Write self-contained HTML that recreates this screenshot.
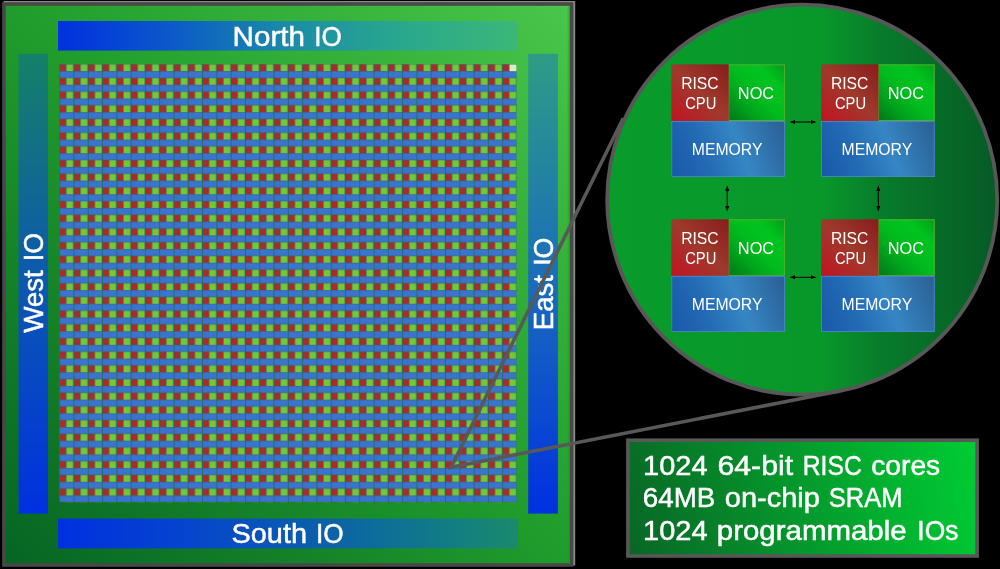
<!DOCTYPE html>
<html><head><meta charset="utf-8"><style>
html,body{margin:0;padding:0;background:#000;width:1000px;height:569px;overflow:hidden}
svg{display:block;will-change:transform}
text{font-family:"Liberation Sans",sans-serif;fill:#fff}
</style></head><body>
<svg width="1000" height="569" viewBox="0 0 1000 569">
<defs>
<linearGradient id="chipG" x1="0" y1="1" x2="1" y2="0">
<stop offset="0" stop-color="#066424"/><stop offset="0.5" stop-color="#209c2c"/><stop offset="1" stop-color="#4ac64a"/>
</linearGradient>
<linearGradient id="ioN" x1="0" y1="0" x2="1" y2="0">
<stop offset="0" stop-color="#0030e0"/><stop offset="0.25" stop-color="#0c5ac8"/><stop offset="0.5" stop-color="#1a8ca8"/><stop offset="0.75" stop-color="#2aa88c"/><stop offset="1" stop-color="#3ab878"/>
</linearGradient>
<linearGradient id="ioS" x1="0" y1="0" x2="1" y2="0">
<stop offset="0" stop-color="#0030e0"/><stop offset="0.3" stop-color="#0646cc"/><stop offset="0.55" stop-color="#0a5eac"/><stop offset="0.8" stop-color="#10788c"/><stop offset="1" stop-color="#1a8a6c"/>
</linearGradient>
<linearGradient id="ioW" x1="0" y1="1" x2="0" y2="0">
<stop offset="0" stop-color="#0030e0"/><stop offset="0.5" stop-color="#0c58b0"/><stop offset="1" stop-color="#168068"/>
</linearGradient>
<linearGradient id="ioE" x1="0" y1="1" x2="0" y2="0">
<stop offset="0" stop-color="#0030e0"/><stop offset="0.5" stop-color="#1a6cbc"/><stop offset="1" stop-color="#2e9c84"/>
</linearGradient>
<pattern id="cell" patternUnits="userSpaceOnUse" x="59.2" y="64.2" width="14.29" height="13.69">
<rect x="0" y="0" width="14.29" height="13.69" fill="#236566"/>
<rect x="0.75" y="0.25" width="6.1" height="6.7" fill="#a82c2c"/>
<rect x="7.2" y="0.25" width="6.75" height="6.7" fill="#72c838"/>
<rect x="0.75" y="7.25" width="13.54" height="6.2" fill="#3a74cc"/>
</pattern>
<linearGradient id="circG" x1="0" y1="0" x2="1" y2="0">
<stop offset="0" stop-color="#089c2a"/><stop offset="0.55" stop-color="#08982a"/><stop offset="0.7" stop-color="#087c2a"/><stop offset="1" stop-color="#065a26"/>
</linearGradient>
<linearGradient id="redG" x1="0" y1="1" x2="1" y2="0">
<stop offset="0" stop-color="#c41222"/><stop offset="0.5" stop-color="#9e3a2c"/><stop offset="1" stop-color="#881c1c"/>
</linearGradient>
<linearGradient id="nocG" x1="0" y1="1" x2="1" y2="0">
<stop offset="0" stop-color="#007618"/><stop offset="0.3" stop-color="#00a61c"/><stop offset="0.5" stop-color="#00bc1e"/><stop offset="0.75" stop-color="#00c41e"/><stop offset="1" stop-color="#009c1a"/>
</linearGradient>
<linearGradient id="memG" gradientUnits="userSpaceOnUse" x1="0" y1="112.6" x2="117.8" y2="67.6">
<stop offset="0" stop-color="#1858a8"/><stop offset="0.3" stop-color="#236ab4"/><stop offset="0.594" stop-color="#3686c4"/><stop offset="1" stop-color="#2a5e92"/>
</linearGradient>
<linearGradient id="boxG" gradientUnits="userSpaceOnUse" x1="630" y1="530" x2="976" y2="455">
<stop offset="0" stop-color="#096826"/><stop offset="1" stop-color="#00cc33"/>
</linearGradient>
<g id="blk">
<rect x="57" y="0" width="56.6" height="56.6" fill="url(#nocG)"/>
<rect x="57.5" y="0.5" width="55.6" height="55.6" fill="none" stroke="#5cb032" stroke-width="0.9"/>
<rect x="0" y="0" width="57.4" height="56.6" fill="url(#redG)"/>
<rect x="0" y="56.6" width="113.6" height="56" fill="url(#memG)"/>
<rect x="0.45" y="57.05" width="112.7" height="55.1" fill="none" stroke="#4a86cc" stroke-width="0.9"/>
<text x="9.84" y="24.7" font-size="17" textLength="37.41" lengthAdjust="spacingAndGlyphs">RISC</text>
<text x="13.89" y="44.6" font-size="17" textLength="31.14" lengthAdjust="spacingAndGlyphs">CPU</text>
<text x="66.57" y="34.7" font-size="17" textLength="36.27" lengthAdjust="spacingAndGlyphs">NOC</text>
<text x="20.5" y="90.8" font-size="17" textLength="70.63" lengthAdjust="spacingAndGlyphs">MEMORY</text>
</g>
</defs>

<!-- chip -->
<rect x="3.5" y="1" width="571.7" height="564.5" fill="#888"/>
<rect x="3.95" y="4" width="567.6" height="561" fill="url(#chipG)" stroke="#484848" stroke-width="3.6"/>

<rect x="58" y="21" width="460" height="29.6" fill="url(#ioN)"/>
<rect x="58" y="518.6" width="460" height="29.8" fill="url(#ioS)"/>
<rect x="18.5" y="53.8" width="29.5" height="459.8" fill="url(#ioW)"/>
<rect x="528.2" y="53.8" width="29.7" height="459.8" fill="url(#ioE)"/>

<text x="232.62" y="46.1" font-size="28" textLength="72.25" lengthAdjust="spacingAndGlyphs" stroke="#fff" stroke-width="0.5">North</text>
<text x="314.16" y="46.1" font-size="28" textLength="27.5" lengthAdjust="spacingAndGlyphs" stroke="#fff" stroke-width="0.5">IO</text>
<text x="231.56" y="543.4" font-size="28" textLength="75.43" lengthAdjust="spacingAndGlyphs" stroke="#fff" stroke-width="0.5">South</text>
<text x="316.0" y="543.4" font-size="28" textLength="27.63" lengthAdjust="spacingAndGlyphs" stroke="#fff" stroke-width="0.5">IO</text>
<text transform="translate(42.8,332.83) rotate(-90)" x="0" y="0" font-size="28" textLength="62.66" lengthAdjust="spacingAndGlyphs" stroke="#fff" stroke-width="0.5">West</text>
<text transform="translate(42.8,261.23) rotate(-90)" x="0" y="0" font-size="28" textLength="28.17" lengthAdjust="spacingAndGlyphs" stroke="#fff" stroke-width="0.5">IO</text>
<text transform="translate(553.1,330.25) rotate(-90)" x="0" y="0" font-size="28" textLength="55.2" lengthAdjust="spacingAndGlyphs" stroke="#fff" stroke-width="0.5">East</text>
<text transform="translate(553.1,265.83) rotate(-90)" x="0" y="0" font-size="28" textLength="28.07" lengthAdjust="spacingAndGlyphs" stroke="#fff" stroke-width="0.5">IO</text>

<rect x="567.6" y="5.8" width="2.4" height="557.8" fill="#10a010" opacity="0.35"/>
<!-- grid -->
<rect x="59.2" y="64.2" width="457.3" height="438.1" fill="url(#cell)"/>
<rect x="509.7" y="64.7" width="6.7" height="6.5" fill="#d8f0c0"/>

<!-- circle -->
<circle cx="802.2" cy="199.7" r="195" fill="url(#circG)" stroke="#585858" stroke-width="3.8"/>
<use href="#blk" x="671.3" y="64.4"/>
<use href="#blk" x="821.1" y="64.4"/>
<use href="#blk" x="671.3" y="219.3"/>
<use href="#blk" x="821.1" y="219.3"/>

<!-- arrows -->
<g stroke="#000" stroke-width="1.0" fill="#000">
<line x1="794" y1="122" x2="812" y2="122"/>
<path d="M789.7 122 L795 120 L795 124 Z" stroke="none"/>
<path d="M816.3 122 L811 120 L811 124 Z" stroke="none"/>
<line x1="794" y1="277.3" x2="812" y2="277.3"/>
<path d="M789.7 277.3 L795 275.3 L795 279.3 Z" stroke="none"/>
<path d="M816.3 277.3 L811 275.3 L811 279.3 Z" stroke="none"/>
<line x1="727.2" y1="190" x2="727.2" y2="207"/>
<path d="M727.2 185.3 L725.2 191 L729.2 191 Z" stroke="none"/>
<path d="M727.2 211.7 L725.2 206 L729.2 206 Z" stroke="none"/>
<line x1="878.3" y1="190" x2="878.3" y2="207"/>
<path d="M878.3 185.3 L876.3 191 L880.3 191 Z" stroke="none"/>
<path d="M878.3 211.7 L876.3 206 L880.3 206 Z" stroke="none"/>
</g>

<!-- leader lines -->
<path d="M623.2 118.3 L451.2 467.3 L839.7 391.1" fill="none" stroke="#585858" stroke-width="3.6" stroke-linejoin="miter"/>

<!-- info box -->
<rect x="627.9" y="440.2" width="349.2" height="115.8" fill="url(#boxG)" stroke="#585858" stroke-width="3.6"/>
<text x="643.08" y="474.8" font-size="28" textLength="64.49" lengthAdjust="spacingAndGlyphs" stroke="#fff" stroke-width="0.5">1024</text>
<text x="717.52" y="474.8" font-size="28" textLength="75.59" lengthAdjust="spacingAndGlyphs" stroke="#fff" stroke-width="0.5">64-bit</text>
<text x="802.74" y="474.8" font-size="28" textLength="59.02" lengthAdjust="spacingAndGlyphs" stroke="#fff" stroke-width="0.5">RISC</text>
<text x="871.23" y="474.8" font-size="28" textLength="69.01" lengthAdjust="spacingAndGlyphs" stroke="#fff" stroke-width="0.5">cores</text>
<text x="642.84" y="507.3" font-size="28" textLength="72.46" lengthAdjust="spacingAndGlyphs" stroke="#fff" stroke-width="0.5">64MB</text>
<text x="724.76" y="507.3" font-size="28" textLength="95.21" lengthAdjust="spacingAndGlyphs" stroke="#fff" stroke-width="0.5">on-chip</text>
<text x="828.72" y="507.3" font-size="28" textLength="73.66" lengthAdjust="spacingAndGlyphs" stroke="#fff" stroke-width="0.5">SRAM</text>
<text x="643.08" y="539.5" font-size="28" textLength="64.49" lengthAdjust="spacingAndGlyphs" stroke="#fff" stroke-width="0.5">1024</text>
<text x="716.82" y="539.5" font-size="28" textLength="189.74" lengthAdjust="spacingAndGlyphs" stroke="#fff" stroke-width="0.5">programmable</text>
<text x="917.33" y="539.5" font-size="28" textLength="41.01" lengthAdjust="spacingAndGlyphs" stroke="#fff" stroke-width="0.5">IOs</text>
</svg>
</body></html>
